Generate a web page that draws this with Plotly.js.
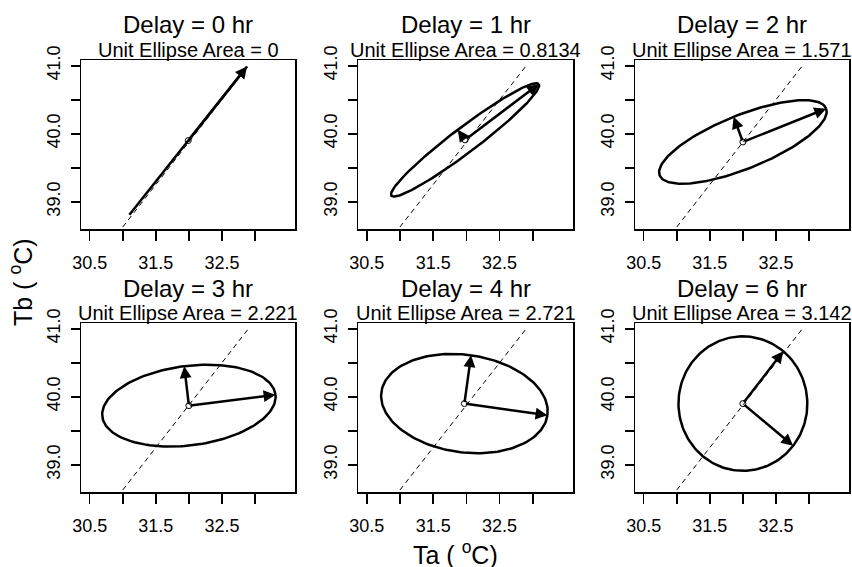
<!DOCTYPE html>
<html>
<head>
<meta charset="utf-8">
<script src="https://cdn.plot.ly/plotly-3.0.1.min.js"></script>
<style>html,body{margin:0;padding:0;background:#fff;}#chart{width:852px;height:567px;}</style>
</head>
<body>
<div id="chart"></div>
<script>
// ---- data ----
const delays = ['0', '1', '2', '3', '4', '6'];
const areas = ['0', '0.8134', '1.571', '2.221', '2.721', '3.142'];
const centerX = [31.99, 31.98, 32.0, 32.0, 31.97, 32.0];
const centerY = [39.9, 39.91, 39.88, 39.87, 39.9, 39.9];
const majorDX = [0.89, 1.11, 1.26, 1.31, 1.25, 0.61];
const majorDY = [1.09, 0.82, 0.49, 0.16, -0.17, 0.77];
const minorDX = [0, -0.11, -0.14, -0.07, 0.10, 0.76];
const minorDY = [0, 0.15, 0.37, 0.58, 0.71, -0.62];
const dashX = [31.0, 32.9];
const dashY = [38.63, 41.0];
const xTickVals = [30.5, 31.5, 32.5];
const xTickText = ['30.5', '31.5', '32.5'];
const xMinorVals = [31.0, 32.0, 33.0];
const yTickVals = [39.0, 40.0, 41.0];
const yTickText = ['39.0', '40.0', '41.0'];
const yMinorVals = [39.5, 40.5];

// ---- layout geometry (pixels) ----
const W = 852, H = 567;
const colPx = [[81, 295], [358, 573], [635, 849]];
const rowPx = [[60, 229], [323, 492]];
const FONT = 'Liberation Sans, Arial, sans-serif';

const traces = [];
const annotations = [];
const layout = {
  width: W, height: H,
  margin: {l: 0, r: 0, t: 0, b: 0},
  paper_bgcolor: '#fff', plot_bgcolor: '#fff',
  showlegend: false,
  font: {family: FONT, color: '#000'}
};

const NPTS = 181;
for (let i = 0; i < 6; i++) {
  const r = Math.floor(i / 3), c = i % 3;
  const n = i + 1;
  const xa = n === 1 ? 'x' : 'x' + n;
  const ya = n === 1 ? 'y' : 'y' + n;
  const xk = n === 1 ? 'xaxis' : 'xaxis' + n;
  const yk = n === 1 ? 'yaxis' : 'yaxis' + n;
  const [x0, x1] = colPx[c];
  const [y0, y1] = rowPx[r];
  layout[xk] = {
    domain: [x0 / W, x1 / W], anchor: ya,
    range: [30.368, 33.605], tickmode: 'array', tickvals: xTickVals, ticktext: xTickText,
    ticks: 'outside', ticklen: 10, tickwidth: 1.5, tickcolor: '#000',
    minor: {tickmode: 'array', tickvals: xMinorVals, ticks: 'outside', ticklen: 10, tickwidth: 1.5, tickcolor: '#000', showgrid: false},
    showline: true, mirror: true, linecolor: '#000', linewidth: 1.5,
    showgrid: false, zeroline: false, ticklabelstandoff: 7,
    tickfont: {family: FONT, size: 18, color: '#000'}, fixedrange: true
  };
  layout[yk] = {
    domain: [1 - y1 / H, 1 - y0 / H], anchor: xa,
    range: [38.60, 41.085], tickmode: 'array', tickvals: yTickVals, ticktext: yTickText,
    ticks: 'outside', ticklen: 9, tickwidth: 1.5, tickcolor: '#000', tickangle: -90,
    minor: {tickmode: 'array', tickvals: yMinorVals, ticks: 'outside', ticklen: 9, tickwidth: 1.5, tickcolor: '#000', showgrid: false},
    showline: true, mirror: true, linecolor: '#000', linewidth: 1.5,
    showgrid: false, zeroline: false, ticklabelstandoff: 3,
    tickfont: {family: FONT, size: 18, color: '#000'}, fixedrange: true
  };

  // dashed reference line
  traces.push({x: dashX, y: dashY, xaxis: xa, yaxis: ya, type: 'scatter', mode: 'lines',
    line: {color: '#000', width: 1, dash: '5px,4px'}, hoverinfo: 'skip'});

  // ellipse from centre and principal semi-axes
  const ex = [], ey = [];
  for (let k = 0; k < NPTS; k++) {
    const t = 2 * Math.PI * k / (NPTS - 1);
    ex.push(centerX[i] + Math.cos(t) * majorDX[i] + Math.sin(t) * minorDX[i]);
    ey.push(centerY[i] + Math.cos(t) * majorDY[i] + Math.sin(t) * minorDY[i]);
  }
  traces.push({x: ex, y: ey, xaxis: xa, yaxis: ya, type: 'scatter', mode: 'lines',
    line: {color: '#000', width: 2.5}, hoverinfo: 'skip'});

  // centre marker
  traces.push({x: [centerX[i]], y: [centerY[i]], xaxis: xa, yaxis: ya, type: 'scatter', mode: 'markers',
    marker: {symbol: 'circle-open', size: 6, color: '#000', line: {width: 1}}, hoverinfo: 'skip'});

  // axis arrows
  const arrows = [[majorDX[i], majorDY[i]], [minorDX[i], minorDY[i]]];
  arrows.forEach(([dx, dy]) => {
    if (dx === 0 && dy === 0) return;
    annotations.push({
      xref: xa, yref: ya, axref: xa, ayref: ya,
      x: centerX[i] + dx, y: centerY[i] + dy, ax: centerX[i], ay: centerY[i],
      text: '', showarrow: true, arrowhead: 2, arrowsize: 0.95, arrowwidth: 2.5, arrowcolor: '#000'
    });
  });

  // titles
  const cx = (x0 + x1) / 2 / W;
  annotations.push({xref: 'paper', yref: 'paper', x: cx, y: 1 - (y0 - 35) / H,
    text: 'Delay = ' + delays[i] + ' hr', showarrow: false, xanchor: 'center', yanchor: 'middle',
    font: {family: FONT, size: 24, color: '#000'}});
  annotations.push({xref: 'paper', yref: 'paper', x: cx, y: 1 - (y0 - 10) / H,
    text: 'Unit Ellipse Area = ' + areas[i], showarrow: false, xanchor: 'center', yanchor: 'middle',
    font: {family: FONT, size: 20, color: '#000'}});
}

// global axis labels
annotations.push({xref: 'paper', yref: 'paper', x: 455 / W, y: 1 - 553 / H,
  text: 'Ta ( <sup>o</sup>C)', showarrow: false, xanchor: 'center', yanchor: 'middle',
  font: {family: FONT, size: 25, color: '#000'}});
annotations.push({xref: 'paper', yref: 'paper', x: 21 / W, y: 1 - 282 / H,
  text: 'Tb ( <sup>o</sup>C)', showarrow: false, xanchor: 'center', yanchor: 'middle', textangle: -90,
  font: {family: FONT, size: 25, color: '#000'}});

layout.annotations = annotations;
Plotly.newPlot('chart', traces, layout, {displayModeBar: false, staticPlot: true});
</script>
</body>
</html>
